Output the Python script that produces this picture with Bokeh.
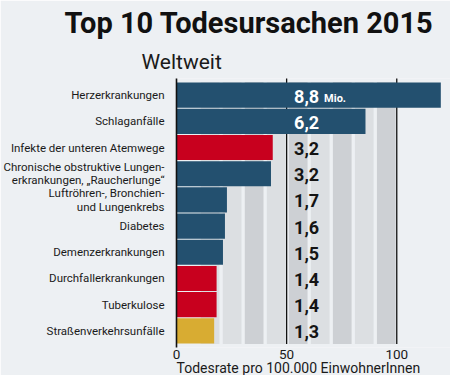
from bokeh.plotting import figure
from bokeh.models import FactorRange, Range1d, FixedTicker, Title
from bokeh.core.properties import value
from bokeh.embed import file_html
from bokeh.resources import INLINE

# ---- data ----
categories = [
    "Herzerkrankungen",
    "Schlaganfälle",
    "Infekte der unteren Atemwege",
    "Chronische obstruktive Lungen-\nerkrankungen, „Raucherlunge“",
    "Luftröhren-, Bronchien-\nund Lungenkrebs",
    "Diabetes",
    "Demenzerkrankungen",
    "Durchfallerkrankungen",
    "Tuberkulose",
    "Straßenverkehrsunfälle",
]
rates = [120.0, 85.8, 43.7, 42.9, 22.9, 22.0, 21.1, 18.2, 18.2, 17.1]   # per 100,000
labels = ["8,8", "6,2", "3,2", "3,2", "1,7", "1,6", "1,5", "1,4", "1,4", "1,3"]  # Mio.
groups = ["nc", "nc", "inf", "nc", "nc", "nc", "nc", "inf", "inf", "inj"]
x_ticks = [0, 50, 100]

title_text = "Top 10 Todesursachen 2015"
subtitle_text = "Weltweit"
xlabel_text = "Todesrate pro 100.000 EinwohnerInnen"

# ---- style ----
BG = "#edf0f3"
group_colors = {"nc": "#23506f", "inf": "#c8001e", "inj": "#d8ac32"}
stripe_light = "#dcdfe2"
stripe_dark = "#cdd0d4"
FONT = "Roboto"

n = len(categories)
p = figure(
    width=450, height=375,
    y_range=FactorRange(factors=list(reversed(categories)), range_padding=0.027),
    x_range=Range1d(0, 124.4),
    output_backend="svg", toolbar_location=None,
    min_border_left=169, min_border_right=0, min_border_top=0, min_border_bottom=0,
)
p.background_fill_color = BG
p.border_fill_color = BG
p.outline_line_color = None
p.xgrid.visible = False
p.ygrid.visible = False

# background stripes (decorative, every 10 units up to 100)
step = 10
s_left, s_right, s_col = [], [], []
for k in range(1, 10):
    s_left.append(k * step + 1.0)
    s_right.append(k * step + 9.5)
    s_col.append(stripe_light if k % 2 == 0 or k == 1 else stripe_dark)
p.quad(left=s_left, right=s_right, bottom=0, top=n, color=s_col, line_color=None)

# grid lines at 50 and 100
gx = [t for t in x_ticks if t > 0]
p.segment(x0=gx, x1=gx, y0=0, y1=n + 1, line_color="#111111", line_width=1.3)

# bars
p.hbar(y=categories, right=rates, left=0, height=0.96,
       color=[group_colors[g] for g in groups], line_color=None)

# value labels
label_x = 53.4
txt_colors = ["white" if r > label_x + 10 else "#141414" for r in rates]
p.text(x=[label_x] * n, y=categories, text=labels, text_color=txt_colors,
       text_font=value(FONT), text_font_style="bold", text_font_size="18px",
       text_align="left", text_baseline="middle", y_offset=1)
p.text(x=[label_x], y=[categories[0]], text=["Mio."], text_color=txt_colors[0],
       text_font=value(FONT), text_font_style="bold", text_font_size="11px",
       text_align="left", text_baseline="middle", y_offset=3, x_offset=30)

# axes
p.yaxis.axis_line_color = "#111111"
p.yaxis.axis_line_width = 1.6
p.yaxis.major_tick_line_color = None
p.yaxis.minor_tick_line_color = None
p.yaxis.major_label_standoff = 6
p.yaxis.major_label_text_font = FONT
p.yaxis.major_label_text_font_size = "11.5px"
p.yaxis.major_label_text_line_height = 0.95
p.yaxis.major_label_text_color = "#1a1a1a"

xax = p.xaxis[0]
xax.ticker = FixedTicker(ticks=x_ticks)
xax.axis_line_color = None
xax.major_tick_line_color = None
xax.minor_tick_line_color = None
xax.major_tick_in = 0
xax.major_tick_out = 0
xax.minor_tick_in = 0
xax.minor_tick_out = 0
xax.major_label_standoff = 2
xax.major_label_text_font = FONT
xax.major_label_text_font_size = "13.5px"
xax.major_label_text_line_height = 1.0
xax.major_label_text_color = "#1a1a1a"

# titles
p.title.visible = False
p.add_layout(Title(text=subtitle_text, align="left", offset=-35, text_font=FONT,
                   text_font_style="normal", text_font_size="21px",
                   text_color="#1a1a1a", standoff=10), "above")
p.add_layout(Title(text=title_text, align="left", offset=-112, text_font=FONT,
                   text_font_style="bold", text_font_size="29px",
                   text_color="#111111", standoff=6), "above")
p.add_layout(Title(text=xlabel_text, align="left", offset=0, text_font=FONT,
                   text_font_style="normal", text_font_size="14px",
                   text_color="#1a1a1a", standoff=-4, vertical_align="top"), "below")

open("out.html", "w").write(file_html(p, INLINE))
